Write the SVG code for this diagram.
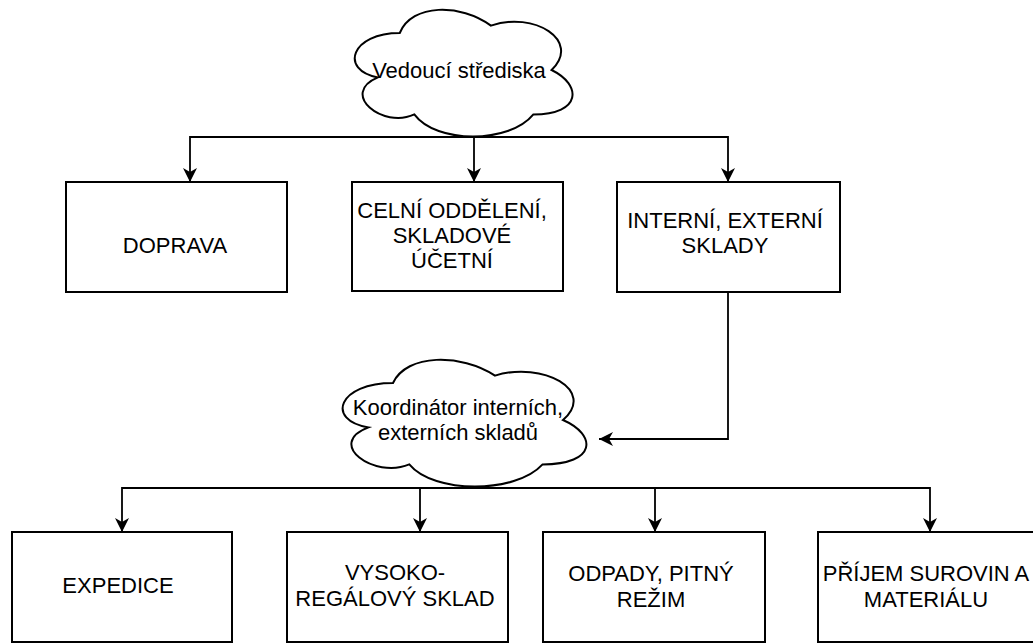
<svg xmlns="http://www.w3.org/2000/svg" width="1033" height="643" viewBox="0 0 1033 643">
<defs>
<style>
.box{fill:#fff;stroke:#000;stroke-width:2}
.cloud{fill:#fff;stroke:#000;stroke-width:2}
.t{font-family:"Liberation Sans",Arial,sans-serif;font-size:22px;fill:#000;text-anchor:middle}
.edge{fill:none;stroke:#000;stroke-width:1.8}
</style>
<marker id="arr" viewBox="0 0 14 14" refX="14" refY="7" markerWidth="14" markerHeight="14" markerUnits="userSpaceOnUse" orient="auto">
<path d="M0,0 L14,7 L0,14 L4,7 Z" fill="#000"/>
</marker>
</defs>
<rect width="1033" height="643" fill="#fff"/>
<g id="connectors">
<path class="edge" d="M474,137 L190,137 L190,182" marker-end="url(#arr)"/>
<path class="edge" d="M474,137 L474,182" marker-end="url(#arr)"/>
<path class="edge" d="M474,137 L728,137 L728,182" marker-end="url(#arr)"/>
<path class="edge" d="M728,292 L728,439 L599,439" marker-end="url(#arr)"/>
<path class="edge" d="M461,488 L122,488 L122,532" marker-end="url(#arr)"/>
<path class="edge" d="M461,488 L420,488 L420,532" marker-end="url(#arr)"/>
<path class="edge" d="M461,488 L655,488 L655,532" marker-end="url(#arr)"/>
<path class="edge" d="M461,488 L930,488 L930,532" marker-end="url(#arr)"/>
</g>
<g id="cloud-vedouci">
<path class="cloud" d="M399.75,33 C351.15,33 339,70 377.9,77.4 C339,93.7 382.7,129.2 414.3,114.4 C436.2,144 509.1,144 533.4,114.4 C582,114.4 582,84.8 551.6,70 C582,40.4 533.4,10.8 490.9,25.6 C460.5,3.4 411.9,3.4 399.75,33 Z"/>
<text class="t" x="459" y="78">Vedoucí střediska</text>
</g>
<g id="node-doprava">
<rect class="box" x="66" y="182" width="221" height="110"/>
<text class="t" x="175" y="253">DOPRAVA</text>
</g>
<g id="node-celni">
<rect class="box" x="352" y="182" width="211" height="109"/>
<text class="t" x="452" y="218">CELNÍ ODDĚLENÍ,</text>
<text class="t" x="452" y="243">SKLADOVÉ</text>
<text class="t" x="452" y="268">ÚČETNÍ</text>
</g>
<g id="node-interni">
<rect class="box" x="617" y="182" width="223" height="110"/>
<text class="t" x="725" y="228">INTERNÍ, EXTERNÍ</text>
<text class="t" x="725" y="253">SKLADY</text>
</g>
<g id="cloud-koordinator">
<path class="cloud" d="M393,383 C338.6,383 325,420 368.5,427.4 C325,443.7 374,479.2 409.3,464.4 C433.8,494 515.4,494 542.6,464.4 C597,464.4 597,434.8 563,420 C597,390.4 542.6,360.8 495,375.6 C461,353.4 406.6,353.4 393,383 Z"/>
<text class="t" x="458" y="415">Koordinátor interních,</text>
<text class="t" x="458" y="440">externích skladů</text>
</g>
<g id="node-expedice">
<rect class="box" x="12" y="532" width="220" height="110"/>
<text class="t" x="118" y="593">EXPEDICE</text>
</g>
<g id="node-vysoko">
<rect class="box" x="287" y="532" width="221" height="110"/>
<text class="t" x="395" y="580">VYSOKO-</text>
<text class="t" x="395" y="606">REGÁLOVÝ SKLAD</text>
</g>
<g id="node-odpady">
<rect class="box" x="543" y="532" width="222" height="110"/>
<text class="t" x="651" y="581">ODPADY, PITNÝ</text>
<text class="t" x="651" y="607">REŽIM</text>
</g>
<g id="node-prijem">
<rect class="box" x="818" y="532" width="221" height="110"/>
<text class="t" x="926" y="581">PŘÍJEM SUROVIN A</text>
<text class="t" x="926" y="607">MATERIÁLU</text>
</g>
</svg>
